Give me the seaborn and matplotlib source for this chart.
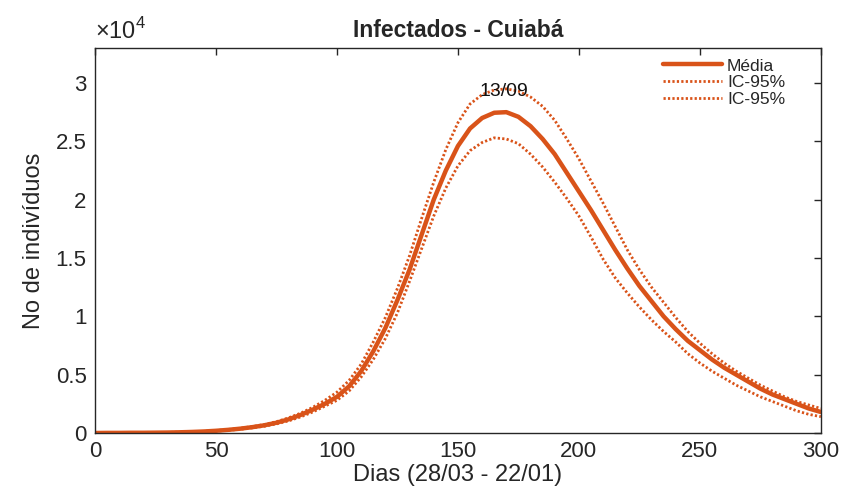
import numpy as np
import pandas as pd
import matplotlib
matplotlib.use('Agg')
import matplotlib.pyplot as plt
from matplotlib.ticker import FuncFormatter
import seaborn as sns

# %%
# values, in units of 10^4 individuals
dias = list(range(0, 301, 5))

media = [0.000, 0.001, 0.001, 0.002, 0.002, 0.003, 0.004, 0.006, 0.009, 0.013,
         0.019, 0.027, 0.037, 0.050, 0.066, 0.088, 0.117, 0.155, 0.20, 0.25,
         0.31, 0.40, 0.53, 0.70, 0.90, 1.14, 1.40, 1.70, 2.00, 2.25,
         2.46, 2.61, 2.70, 2.745, 2.75, 2.71, 2.63, 2.52, 2.39, 2.23,
         2.07, 1.91, 1.74, 1.57, 1.41, 1.26, 1.13, 1.00, 0.89, 0.79,
         0.71, 0.63, 0.56, 0.50, 0.44, 0.38, 0.33, 0.29, 0.25, 0.21, 0.18]

ic_sup = [0.000, 0.001, 0.001, 0.002, 0.002, 0.003, 0.005, 0.007, 0.010, 0.014,
          0.021, 0.030, 0.041, 0.055, 0.073, 0.097, 0.13, 0.17, 0.22, 0.28,
          0.35, 0.45, 0.59, 0.78, 0.99, 1.24, 1.52, 1.84, 2.15, 2.43,
          2.66, 2.82, 2.90, 2.94, 2.95, 2.93, 2.88, 2.80, 2.68, 2.52,
          2.35, 2.16, 1.97, 1.77, 1.57, 1.40, 1.25, 1.12, 0.99, 0.87,
          0.77, 0.68, 0.60, 0.53, 0.47, 0.41, 0.36, 0.31, 0.27, 0.24, 0.21]

ic_inf = [0.000, 0.000, 0.001, 0.001, 0.002, 0.002, 0.003, 0.005, 0.007, 0.011,
          0.016, 0.023, 0.032, 0.044, 0.058, 0.078, 0.104, 0.138, 0.18, 0.23,
          0.28, 0.36, 0.48, 0.63, 0.81, 1.03, 1.30, 1.58, 1.86, 2.10,
          2.29, 2.42, 2.49, 2.53, 2.52, 2.48, 2.39, 2.28, 2.15, 2.01,
          1.86, 1.68, 1.49, 1.33, 1.20, 1.08, 0.97, 0.87, 0.78, 0.68,
          0.60, 0.53, 0.47, 0.41, 0.36, 0.31, 0.27, 0.23, 0.19, 0.16, 0.14]

pico_dia = 169
pico_valor = 2.93
pico_label = '13/09'

df = pd.DataFrame({'dia': dias, 'media': media, 'sup': ic_sup, 'inf': ic_inf})

# %%
sns.set_theme(style="white")
plt.rcParams['font.family'] = ['Liberation Sans', 'DejaVu Sans']
plt.rcParams['mathtext.fontset'] = 'custom'
plt.rcParams['mathtext.rm'] = 'Liberation Sans'

cor = '#D95319'
cinza = '#262626'

fig = plt.figure(figsize=(8.46, 5.0), dpi=100)
ax = fig.add_axes([0.1123, 0.134, 0.858, 0.770])

sns.lineplot(data=df, x='dia', y='media', ax=ax, color=cor, lw=3.2, label='Média')
sns.lineplot(data=df, x='dia', y='sup', ax=ax, color=cor, lw=2.0,
             linestyle=(0, (0.8, 0.8)), label='IC-95%')
sns.lineplot(data=df, x='dia', y='inf', ax=ax, color=cor, lw=2.0,
             linestyle=(0, (0.8, 0.8)), label='IC-95%')

ax.text(pico_dia, pico_valor, pico_label, ha='center', va='center',
        fontsize=14, color='#111111')

ax.set_xlim(0, 300)
ax.set_ylim(0, 3.3)
ax.set_xticks(range(0, 301, 50))
ax.set_yticks([0, 0.5, 1, 1.5, 2, 2.5, 3])
ax.yaxis.set_major_formatter(FuncFormatter(lambda v, p: '%g' % v))

for s in ax.spines.values():
    s.set_visible(True)
    s.set_color(cinza)
    s.set_linewidth(1.0)
ax.tick_params(direction='in', length=5, width=1, color=cinza,
               top=True, right=True, labelsize=16, labelcolor=cinza, pad=6)

ax.set_xlabel('Dias (28/03 - 22/01)', fontsize=17, color=cinza, labelpad=1)
ax.set_ylabel('No de indivíduos', fontsize=17, color=cinza, labelpad=8)
ax.set_title('Infectados - Cuiabá', fontsize=16.5, fontweight='bold', pad=8)

fig.text(0.1123, 0.912, r'$\times10^{4}$', fontsize=17, color=cinza,
         ha='left', va='bottom')

leg = ax.legend(loc='upper right', frameon=False, fontsize=12.5,
                handlelength=3.4, handletextpad=0.3, labelspacing=0.1,
                borderaxespad=0.2, bbox_to_anchor=(0.965, 1.0))

plt.savefig('out.png', dpi=100)
